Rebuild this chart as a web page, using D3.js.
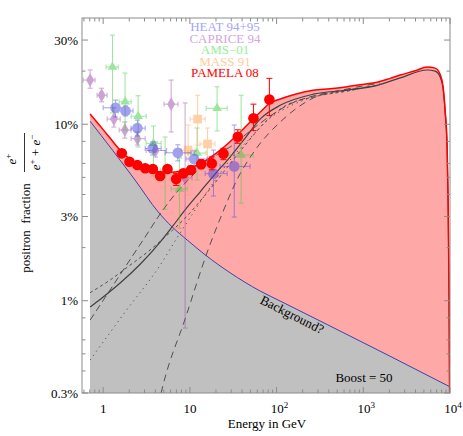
<!DOCTYPE html>
<html>
<head>
<meta charset="utf-8">
<script src="https://cdn.jsdelivr.net/npm/d3@7"></script>
<style>
  body { margin: 0; background: #fff; }
</style>
</head>
<body>
<svg id="chart" width="463" height="436" font-family="'Liberation Serif', 'DejaVu Serif', serif"></svg>
<script>
// Model curves, [energy in GeV, positron fraction]
var totalCurve = [[0.707,0.1143],[0.922,0.0977],[1.20,0.0836],[1.49,0.0733],[1.79,0.0669],[2.34,0.0603],
  [3.05,0.0565],[3.97,0.0543],[5.18,0.0533],[6.76,0.0536],[8.81,0.0550],[11.5,0.0580],[15.0,0.0619],
  [19.5,0.0678],[25.5,0.0753],[33.2,0.0847],[43.4,0.0964],[53.6,0.107],[68.1,0.120],[84.2,0.132],
  [110,0.139],[164,0.148],[264,0.156],[414,0.159],[651,0.163],[970,0.168],[1445,0.173],[2040,0.182],
  [2660,0.190],[3960,0.201],[5450,0.211],[6730,0.208],[7690,0.192],[8330,0.163],[8790,0.120],
  [9270,0.0743],[9510,0.0372],[9770,0.0101],[9900,0.003]]

var backgroundCurve = [[0.707,0.104],[2.33,0.0483],[4.30,0.0319],[6.24,0.0262],[9.29,0.0221],[15.0,0.0182],
  [29.1,0.0144],[64.6,0.01135],[110,0.00996],[383,0.00733],[2000,0.00487],[10000,0.00325]]

var signalSolid = [[0.707,0.00921],[1.00,0.0105],[1.57,0.0126],[2.67,0.0161],[4.54,0.0215],[6.24,0.0262],
  [8.81,0.0327],[13.1,0.0413],[19.5,0.0522],[29.1,0.0652],[43.4,0.0835],[64.6,0.107],[110,0.128],
  [264,0.148],[651,0.156],[1444,0.166],[2660,0.183],[5450,0.203],[6740,0.200],[7700,0.185],
  [8335,0.158],[8790,0.117],[9270,0.0724],[9517,0.0362],[9772,0.00983],[9900,0.003]]

var signalDashed = [[0.707,0.00777],[1.20,0.0115],[1.79,0.0155],[3.05,0.0230],[4.54,0.0310],[6.76,0.0402],
  [10.06,0.0496],[13.1,0.0565],[19.5,0.0661],[29.1,0.0743],[49.5,0.0916],[84.2,0.1113],[143,0.1302],
  [264,0.1445],[651,0.1562],[1444,0.166]]

var signalDashDot = [[0.707,0.0111],[1.20,0.0131],[2.04,0.0159],[3.48,0.0194],[5.18,0.0230],[8.81,0.0294],
  [15.0,0.0397],[25.5,0.0550],[43.4,0.0762],[73.8,0.1029],[125,0.1268],[264,0.1426],[651,0.1542],[1444,0.166]]

var signalDotted = [[0.707,0.00461],[1.79,0.00863],[4.54,0.0159],[7.1,0.0227],[11.5,0.0327],[18.5,0.0464],
  [29.1,0.0627],[49.5,0.0835],[84.2,0.1084],[143,0.1268],[264,0.1426],[651,0.1542],[1444,0.166]]

var signalSteep = [[4.66,0.003],[4.91,0.00333],[8.81,0.00788],[16.2,0.0194],[23.5,0.0310],[34.8,0.0483],
  [56.6,0.0714],[110,0.1029],[264,0.1408],[651,0.1583],[1564,0.1712]]

// Measurements, [E, f, E low, E high, f low, f high]
var heatPoints = [[1.39,0.124,1.00,1.87,0.110,0.137],[1.81,0.119,1.49,2.21,0.1115,0.127],
  [2.48,0.095,2.10,3.05,0.0858,0.1056],[3.72,0.0729,3.05,4.66,0.0669,0.0793],
  [7.26,0.0689,5.18,10.3,0.062,0.0765],[11.2,0.0636,9.05,15.8,0.0573,0.0706],
  [18.7,0.0525,15.0,26.9,0.0392,0.0714],[32.5,0.0577,22.3,49.5,0.0298,0.0990]]

var capricePoints = [[0.707,0.178,0.587,0.807,0.160,0.203],[0.959,0.146,0.851,1.11,0.134,0.160],
  [1.33,0.107,1.11,1.57,0.0964,0.124],[1.78,0.0927,1.53,2.10,0.0835,0.103],
  [2.48,0.0828,2.10,3.05,0.0762,0.0904],[4.02,0.071,3.13,5.4,0.0652,0.0793],
  [6.08,0.130,5.04,7.31,0.0904,0.178],[8.81,0.0496,7.31,10.6,0.0070,0.132]]

var amsPoints = [[1.28,0.211,1.08,1.49,0.116,0.320],[1.79,0.134,1.53,2.10,0.0927,0.195],
  [2.53,0.111,2.10,3.13,0.0743,0.145],[3.80,0.0779,3.13,4.66,0.0509,0.0977],
  [5.18,0.055,4.54,6.24,0.0330,0.0847],[7.57,0.043,6.08,9.29,0.0258,0.0643],
  [12.1,0.0687,9.55,15.4,0.0483,0.0952],[20.6,0.1231,15.4,26.9,0.0916,0.163],
  [39.0,0.0669,27.6,53.6,0.0357,0.146]]

var massPoints = [[9.55,0.0714,7.92,11.5,0.0397,0.0990],[12.3,0.107,10.06,15.0,0.0762,0.146],
  [16.0,0.0773,13.1,19.5,0.0587,0.0952]]

// PAMELA, [E, f, f low, f high]
var pamelaPoints = [[1.64,0.0684,0.066,0.071],[2.01,0.0613,0.0595,0.063],[2.48,0.0588,0.057,0.0605],
  [3.05,0.0563,0.0545,0.058],[3.74,0.0558,0.054,0.0575],[4.54,0.0509,0.049,0.053],
  [5.51,0.0558,0.054,0.058],[6.94,0.0489,0.045,0.0525],[8.42,0.0527,0.050,0.0555],
  [10.3,0.0550,0.052,0.058],[13.5,0.0593,0.056,0.063],[17.9,0.0600,0.0552,0.0653],
  [24.4,0.0680,0.063,0.073],[35.7,0.0850,0.078,0.093],[54.1,0.108,0.092,0.130],
  [82.6,0.138,0.112,0.182]]

var legendNames = ["HEAT 94+95", "CAPRICE 94", "AMS\u221201", "MASS 91", "PAMELA 08"]
var legendColors = ["#a4a4ff", "#d2a6e0", "#94f094", "#ffcc9c", "#ff0000"]

var xMajor = [1, 10, 100, 1000, 10000]
var xMajorExp = [null, null, "2", "3", "4"]
var yMajor = [0.003, 0.01, 0.03, 0.1, 0.3]
var yMajorLabels = ["0.3%", "1%", "3%", "10%", "30%"]
var yMinor = [0.004, 0.005, 0.006, 0.008, 0.02, 0.04, 0.05, 0.06, 0.08, 0.2]

var M = { left: 82, right: 450, top: 18, bottom: 393 }

var x = d3.scaleLog().domain([0.57, 1e4]).range([M.left, M.right])
var y = d3.scaleLog().domain([0.003, 0.4]).range([M.bottom, M.top])

var svg = d3.select("#chart")

svg.append("clipPath").attr("id", "plotClip")
  .append("rect")
  .attr("x", M.left).attr("y", M.top)
  .attr("width", M.right - M.left).attr("height", M.bottom - M.top)

var plot = svg.append("g").attr("clip-path", "url(#plotClip)")

var area = d3.area()
  .x(function(d) { return x(d[0]) })
  .y0(M.bottom)
  .y1(function(d) { return y(d[1]) })
  .curve(d3.curveMonotoneX)

var line = d3.line()
  .x(function(d) { return x(d[0]) })
  .y(function(d) { return y(d[1]) })
  .curve(d3.curveMonotoneX)

plot.append("path").datum(totalCurve).attr("d", area).attr("fill", "#ffa8a8")
plot.append("path").datum(backgroundCurve).attr("d", area).attr("fill", "#c0c0c0")

// dark signal curves
var styles = [
  [signalDotted, "1.2,4"],
  [signalDashDot, "3,3"],
  [signalDashed, "7,4"],
  [signalSteep, "7,5"]
]
styles.forEach(function(s) {
  plot.append("path").datum(s[0]).attr("d", line)
    .attr("fill", "none").attr("stroke", "#505050").attr("stroke-width", 1)
    .attr("stroke-dasharray", s[1])
})
plot.append("path").datum(signalSolid).attr("d", line)
  .attr("fill", "none").attr("stroke", "#404040").attr("stroke-width", 1.2)

plot.append("path").datum(backgroundCurve).attr("d", line)
  .attr("fill", "none").attr("stroke", "#4040a8").attr("stroke-width", 1)
plot.append("path").datum(totalCurve).attr("d", line)
  .attr("fill", "none").attr("stroke", "#ff0000").attr("stroke-width", 1.5)

// error bars with caps
function drawErrors(g, pts, color, cap) {
  var eg = g.append("g").attr("stroke", color).attr("stroke-width", 1).attr("fill", "none")
  pts.forEach(function(p) {
    var cx = x(p[0]), cy = y(p[1])
    var yl = y(p[4]), yh = y(p[5])
    eg.append("line").attr("x1", cx).attr("x2", cx).attr("y1", yl).attr("y2", yh)
    eg.append("line").attr("x1", cx - cap).attr("x2", cx + cap).attr("y1", yl).attr("y2", yl)
    eg.append("line").attr("x1", cx - cap).attr("x2", cx + cap).attr("y1", yh).attr("y2", yh)
    var xl = x(p[2]), xh = x(p[3])
    eg.append("line").attr("x1", xl).attr("x2", xh).attr("y1", cy).attr("y2", cy)
    eg.append("line").attr("x1", xl).attr("x2", xl).attr("y1", cy - cap).attr("y2", cy + cap)
    eg.append("line").attr("x1", xh).attr("x2", xh).attr("y1", cy - cap).attr("y2", cy + cap)
  })
}

function drawMarkers(g, pts, type, size, color) {
  g.append("g").selectAll("path")
    .data(pts).enter().append("path")
    .attr("transform", function(d) { return "translate(" + x(d[0]) + "," + y(d[1]) + ")" })
    .attr("d", d3.symbol().type(type).size(size))
    .attr("fill", color)
}

var dataG = plot.append("g")

var capriceG = dataG.append("g").attr("opacity", 0.5)
drawErrors(capriceG, capricePoints, "#9a4aa8", 2.5)
drawMarkers(capriceG, capricePoints, d3.symbolDiamond, 55, "#9a4aa8")

var amsG = dataG.append("g").attr("opacity", 0.5)
drawErrors(amsG, amsPoints, "#3ccc3c", 2.5)
drawMarkers(amsG, amsPoints, d3.symbolTriangle, 40, "#3ccc3c")

var massG = dataG.append("g").attr("opacity", 0.5)
drawErrors(massG, massPoints, "#ffa050", 2.5)
drawMarkers(massG, massPoints, d3.symbolSquare, 75, "#ffa050")

var heatG = dataG.append("g").attr("opacity", 0.5)
drawErrors(heatG, heatPoints, "#4646e0", 2.5)
drawMarkers(heatG, heatPoints, d3.symbolCircle, 90, "#4646e0")

var pamG = dataG.append("g")
pamelaPoints.forEach(function(p) {
  var cx = x(p[0])
  pamG.append("line").attr("x1", cx).attr("x2", cx).attr("y1", y(p[2])).attr("y2", y(p[3]))
    .attr("stroke", "#ff0000").attr("stroke-width", 1)
  ;[p[2], p[3]].forEach(function(v) {
    pamG.append("line").attr("x1", cx - 3).attr("x2", cx + 3).attr("y1", y(v)).attr("y2", y(v))
      .attr("stroke", "#ff0000").attr("stroke-width", 1)
  })
})
pamG.selectAll("circle").data(pamelaPoints).enter().append("circle")
  .attr("cx", function(d) { return x(d[0]) })
  .attr("cy", function(d) { return y(d[1]) })
  .attr("r", 5.3)
  .attr("fill", "#ff0000")

// frame and ticks (pointing inward on all four sides)
var frame = svg.append("g").attr("stroke", "#8c8c8c").attr("stroke-width", 1)
frame.append("rect")
  .attr("x", M.left).attr("y", M.top)
  .attr("width", M.right - M.left).attr("height", M.bottom - M.top)
  .attr("fill", "none")

var xMinor = []
;[0.1, 1, 10, 100, 1000].forEach(function(dec) {
  for (var k = 2; k <= 9; k++) {
    var v = dec * k
    if (v >= 0.58 && v < 1e4) xMinor.push(v)
  }
})

function xTick(v, len) {
  var px = x(v)
  frame.append("line").attr("x1", px).attr("x2", px).attr("y1", M.bottom).attr("y2", M.bottom - len)
  frame.append("line").attr("x1", px).attr("x2", px).attr("y1", M.top).attr("y2", M.top + len)
}
function yTick(v, len) {
  var py = y(v)
  frame.append("line").attr("x1", M.left).attr("x2", M.left + len).attr("y1", py).attr("y2", py)
  frame.append("line").attr("x1", M.right).attr("x2", M.right - len).attr("y1", py).attr("y2", py)
}
xMajor.forEach(function(v) { xTick(v, 6) })
xMinor.forEach(function(v) { xTick(v, 3.5) })
yMajor.forEach(function(v) { yTick(v, 6) })
yMinor.forEach(function(v) { yTick(v, 3.5) })

// tick labels
var xl = svg.append("g").attr("font-size", 13).attr("fill", "#000")
xMajor.forEach(function(v, i) {
  var t = xl.append("text").attr("x", x(v) + (xMajorExp[i] ? 3 : 0)).attr("y", 413)
    .attr("text-anchor", "middle").text(v === 1 ? "1" : "10")
  if (xMajorExp[i]) {
    t.append("tspan").attr("dy", -5).attr("font-size", 9).text(xMajorExp[i])
  }
})
yMajor.forEach(function(v, i) {
  xl.append("text").attr("x", 78).attr("y", y(v) + 4.5)
    .attr("text-anchor", "end").text(yMajorLabels[i])
})

svg.append("text").attr("x", 267).attr("y", 428).attr("text-anchor", "middle")
  .attr("font-size", 13).text("Energy in GeV")

// y label: rotated text plus fraction e+/(e+ + e-)
var yl = svg.append("g").attr("transform", "rotate(-90)").attr("font-size", 13)
yl.append("text").attr("x", -228).attr("y", 30).attr("text-anchor", "middle")
  .attr("xml:space", "preserve").text("positron  fraction")
yl.append("line").attr("x1", -172).attr("x2", -133).attr("y1", 24.5).attr("y2", 24.5)
  .attr("stroke", "#000").attr("stroke-width", 0.8)
var num = yl.append("text").attr("x", -159).attr("y", 16).attr("text-anchor", "middle")
num.append("tspan").attr("font-style", "italic").text("e")
num.append("tspan").attr("dy", -5).attr("font-size", 9).text("+")
var den = yl.append("text").attr("x", -152.5).attr("y", 40).attr("text-anchor", "middle")
den.append("tspan").attr("font-style", "italic").text("e")
den.append("tspan").attr("dy", -5).attr("font-size", 9).text("+")
den.append("tspan").attr("dy", 5).text(" + ")
den.append("tspan").attr("font-style", "italic").text("e")
den.append("tspan").attr("dy", -5).attr("font-size", 9).text("\u2212")

// legend
legendNames.forEach(function(n, i) {
  svg.append("text").attr("x", 225).attr("y", 31 + i * 11.6)
    .attr("text-anchor", "middle").attr("font-size", 10.4)
    .attr("transform", "translate(225," + (31 + i * 11.6) + ") scale(1.25,1.1) translate(-225," + (-(31 + i * 11.6)) + ")")
    .attr("fill", legendColors[i]).text(n)
})

// annotations
svg.append("text").attr("transform", "translate(292,315) rotate(26.8)")
  .attr("x", 0).attr("y", 4).attr("text-anchor", "middle").attr("font-size", 13)
  .text("Background?")
svg.append("text").attr("x", 364).attr("y", 382).attr("text-anchor", "middle")
  .attr("font-size", 13).text("Boost = 50")
</script>
</body>
</html>
